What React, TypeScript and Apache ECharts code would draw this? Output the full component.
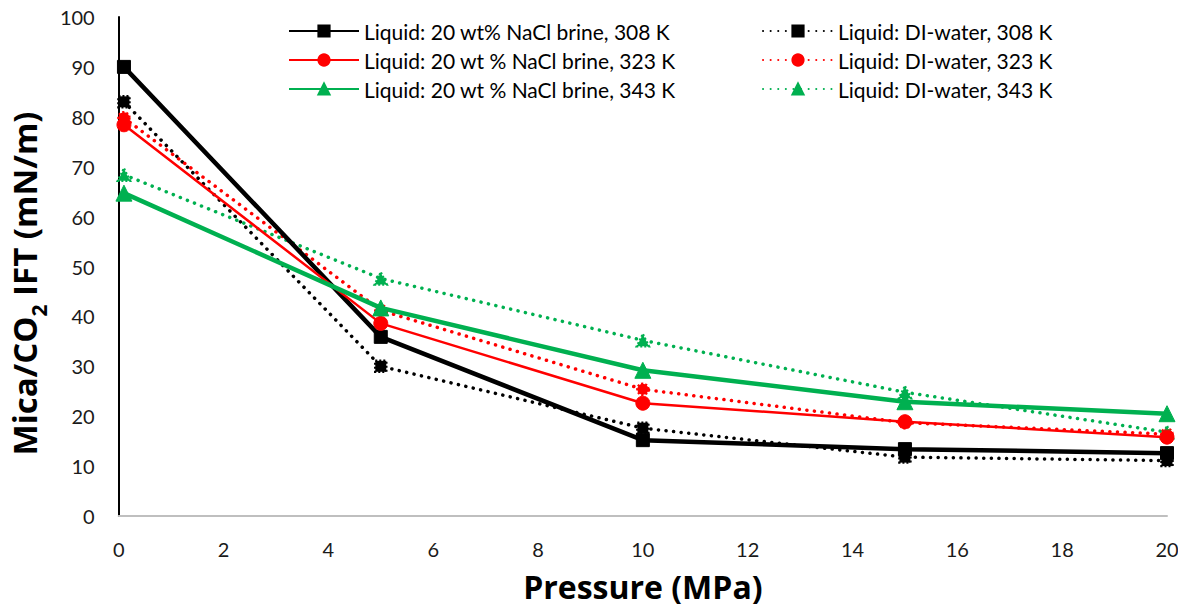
import React, { useEffect, useRef } from "react";
import * as echarts from "echarts";

// Pressure (MPa) at which each IFT was measured
const pressure = [0.1, 5, 10, 15, 20];

// Mica/CO2 interfacial tension (mN/m)
const brine308 = [90, 35.9, 15.2, 13.4, 12.6];
const brine323 = [78.4, 38.6, 22.6, 18.9, 15.8];
const brine343 = [64.7, 41.7, 29.2, 22.9, 20.5];
const di308 = [83, 30, 17.6, 11.8, 11.1];
const di323 = [79.8, 41.2, 25.4, 18.7, 16.4];
const di343 = [68.4, 47.6, 35.2, 24.8, 16.8];

const names = {
  brine308: "Liquid: 20 wt% NaCl brine, 308 K",
  brine323: "Liquid: 20 wt % NaCl brine, 323 K",
  brine343: "Liquid: 20 wt % NaCl brine, 343 K",
  di308: "Liquid: DI-water, 308 K",
  di323: "Liquid: DI-water, 323 K",
  di343: "Liquid: DI-water, 343 K",
};

const BLACK = "#000000";
const RED = "#ff0000";
const GREEN = "#00b050";
const FONT = "Lato";
const TITLE_FONT = "Open Sans";

const pairs = (ys: number[]) => pressure.map((p, i) => [p, ys[i]]);

function solid(name: string, ys: number[], color: string, width: number, symbol: string, size: number, z: number) {
  return {
    name,
    type: "line",
    data: pairs(ys),
    symbol,
    symbolSize: size,
    z,
    lineStyle: { color, width },
    itemStyle: { color, borderColor: color, borderWidth: 1 },
    emphasis: { disabled: true },
  };
}

function dotted(name: string, ys: number[], color: string, symbol: string, size: number, z: number) {
  return {
    name,
    type: "line",
    data: pairs(ys),
    symbol,
    symbolSize: size,
    z,
    lineStyle: { color, width: 3.5, type: [0.1, 7.5], cap: "round" },
    itemStyle: { color, borderColor: color, borderWidth: 2.5, borderType: [2, 2] },
    emphasis: { disabled: true },
  };
}

export default function App() {
  const ref = useRef<HTMLDivElement>(null);

  useEffect(() => {
    if (!ref.current) return;
    const chart = echarts.init(ref.current, undefined, { renderer: "svg" });
    const legendText = { fontFamily: FONT, fontSize: 21, lineHeight: 22, color: "#000" };
    const legendBase = {
      orient: "vertical",
      top: 15,
      itemWidth: 70,
      itemHeight: 14,
      itemGap: 7,
      textStyle: legendText,
    };
    chart.setOption({
      animation: false,
      backgroundColor: "#ffffff",
      textStyle: { fontFamily: FONT },
      grid: { left: 115, right: 19, top: 17, bottom: 96, containLabel: false },
      legend: [
        { ...legendBase, left: 283, data: [names.brine308, names.brine323, names.brine343] },
        { ...legendBase, left: 757, data: [names.di308, names.di323, names.di343] },
      ],
      xAxis: {
        type: "value",
        min: 0,
        max: 20,
        interval: 2,
        axisLine: { show: true, lineStyle: { color: "#bfbfbf", width: 2 } },
        axisTick: { show: false },
        splitLine: { show: false },
        axisLabel: { fontFamily: FONT, fontSize: 20, color: "#1a1a1a", margin: 23 },
        name: "Pressure (MPa)",
        nameLocation: "middle",
        nameGap: 52,
        nameTextStyle: { fontFamily: TITLE_FONT, fontSize: 32, fontWeight: "bold", color: "#000", lineHeight: 36 },
      },
      yAxis: {
        type: "value",
        min: 0,
        max: 100,
        interval: 10,
        axisLine: { show: true, onZero: false, lineStyle: { color: "#000", width: 2 } },
        axisTick: { show: false },
        splitLine: { show: false },
        axisLabel: { fontFamily: FONT, fontSize: 20, color: "#1a1a1a", margin: 24 },
        name: "{a|Mica/CO}{s|2}{a| IFT (mN/m)}",
        nameLocation: "middle",
        nameRotate: 90,
        nameGap: 68,
        nameTextStyle: {
          padding: [0, 34, 0, 0],
          rich: {
            a: { fontFamily: TITLE_FONT, fontSize: 33, fontWeight: "bold", color: "#000", lineHeight: 40, verticalAlign: "top" },
            s: { fontFamily: TITLE_FONT, fontSize: 21, fontWeight: "bold", color: "#000", lineHeight: 20, verticalAlign: "top", padding: [20, 0, 0, 0] },
          },
        },
      },
      series: [
        dotted(names.di308, di308, BLACK, "rect", 11, 2),
        dotted(names.di323, di323, RED, "circle", 11, 2),
        dotted(names.di343, di343, GREEN, "triangle", 12, 2),
        solid(names.brine308, brine308, BLACK, 4.5, "rect", 13, 3),
        solid(names.brine323, brine323, RED, 2.5, "circle", 14, 3),
        solid(names.brine343, brine343, GREEN, 4.5, "triangle", 16, 3),
      ],
    });
    return () => chart.dispose();
  }, []);

  return <div ref={ref} style={{ width: 1186, height: 612, margin: -8 }} />;
}
